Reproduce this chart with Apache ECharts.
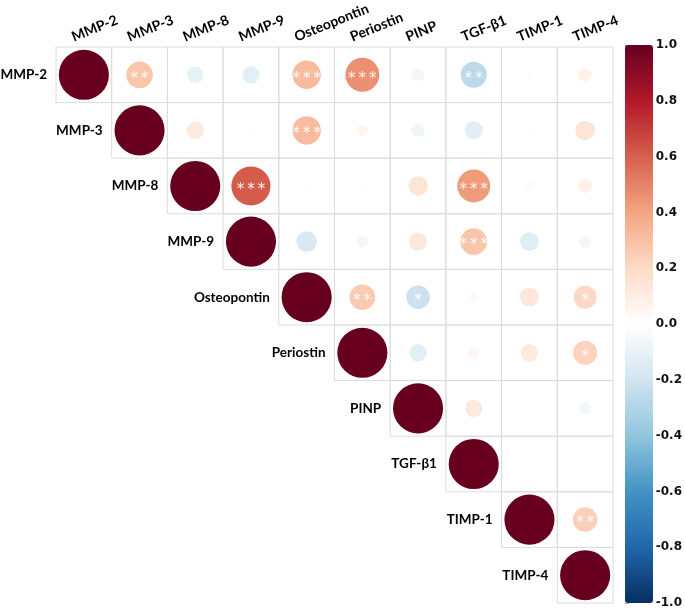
<!DOCTYPE html>
<html><head><meta charset="utf-8">
<script src="https://cdn.jsdelivr.net/npm/echarts@6/dist/echarts.min.js"></script>
<style>html,body{margin:0;padding:0;background:#fff}#c{width:685px;height:610px}</style>
</head><body><div id="c"></div>
<script>
const vars = ['MMP-2','MMP-3','MMP-8','MMP-9','Osteopontin','Periostin','PINP','TGF-β1','TIMP-1','TIMP-4'];
// correlation rows (upper triangle, starting at diagonal)
const rMMP2  = [1, 0.28, -0.11, -0.12, 0.32, 0.46, -0.06, -0.27, 0.02, 0.07];
const rMMP3  = [1, 0.12, 0.02, 0.32, 0.05, -0.07, -0.13, 0.01, 0.15];
const rMMP8  = [1, 0.61, 0.01, 0.01, 0.15, 0.43, 0.03, 0.08];
const rMMP9  = [1, -0.17, -0.06, 0.13, 0.28, -0.14, -0.06];
const rOPN   = [1, 0.26, -0.22, -0.03, 0.14, 0.21];
const rPeri  = [1, -0.12, 0.05, 0.12, 0.23];
const rPINP  = [1, 0.12, -0.01, -0.06];
const rTGF   = [1, -0.01, -0.01];
const rTIMP1 = [1, 0.24];
const rTIMP4 = [1];
// significance marks
const sMMP2  = ['', '**', '', '', '***', '***', '', '**', '', ''];
const sMMP3  = ['', '', '', '***', '', '', '', '', ''];
const sMMP8  = ['', '***', '', '', '', '***', '', ''];
const sMMP9  = ['', '', '', '', '***', '', ''];
const sOPN   = ['', '**', '*', '', '', '*'];
const sPeri  = ['', '', '', '', '*'];
const sPINP  = ['', '', '', ''];
const sTGF   = ['', '', ''];
const sTIMP1 = ['', '**'];
const sTIMP4 = [''];
const colorbarMin = -1, colorbarMax = 1, colorbarStep = 0.2;
const rdbu = ['#053061','#2166AC','#4393C3','#92C5DE','#D1E5F0','#FFFFFF','#FDDBC7','#F4A582','#D6604D','#B2182B','#67001F'];

const rRows = [rMMP2, rMMP3, rMMP8, rMMP9, rOPN, rPeri, rPINP, rTGF, rTIMP1, rTIMP4];
const sRows = [sMMP2, sMMP3, sMMP8, sMMP9, sOPN, sPeri, sPINP, sTGF, sTIMP1, sTIMP4];
const data = [], stars = [];
rRows.forEach((row, j) => row.forEach((v, k) => {
  data.push([j + k, j, v]);
  stars.push(sRows[j][k]);
}));

const labelFont = 'Lato, "Open Sans", sans-serif';
const chart = echarts.init(document.getElementById('c'));
chart.setOption({
  animation: false,
  grid: [
    {left: 56, top: 47, width: 557, height: 556},
    {left: 625, top: 45, width: 28, height: 558}
  ],
  xAxis: [
    {gridIndex: 0, type: 'category', data: vars, position: 'top', axisLine: {show: false}, axisTick: {show: false}, axisLabel: {show: false}, splitLine: {show: false}},
    {gridIndex: 1, type: 'value', show: false}
  ],
  yAxis: [
    {gridIndex: 0, type: 'category', data: vars, inverse: true, axisLine: {show: false}, axisTick: {show: false}, axisLabel: {show: false}, splitLine: {show: false}},
    {gridIndex: 1, type: 'value', min: colorbarMin, max: colorbarMax, interval: colorbarStep, position: 'right',
      axisLine: {show: false}, splitLine: {show: false},
      axisTick: {show: true, length: 4, lineStyle: {color: '#aaaaaa'}},
      axisLabel: {margin: 13, formatter: v => v.toFixed(1), fontFamily: '"DejaVu Sans", sans-serif', fontWeight: 'bold', fontSize: 12, color: '#111'}}
  ],
  visualMap: {
    type: 'continuous', min: colorbarMin, max: colorbarMax, dimension: 2, seriesIndex: 0,
    orient: 'vertical', left: 625, top: 45, itemWidth: 28, itemHeight: 558, padding: 0,
    calculable: false, text: null, showLabel: false, hoverLink: false,
    inRange: {color: rdbu}
  },
  series: [{
    type: 'custom', xAxisIndex: 0, yAxisIndex: 0, data: data, silent: true,
    renderItem: function (params, api) {
      const i = api.value(0), j = api.value(1), r = api.value(2);
      const p = api.coord([i, j]);
      const s = api.size([1, 1]);
      const rad = Math.sqrt(Math.abs(r)) * s[0] * 0.45;
      const children = [
        {type: 'rect', shape: {x: p[0] - s[0] / 2, y: p[1] - s[1] / 2, width: s[0], height: s[1]}, style: {fill: 'none', stroke: '#dcdcdc', lineWidth: 1}},
        {type: 'circle', shape: {cx: p[0], cy: p[1], r: rad}, style: {fill: api.visual('color')}}
      ];
      const st = stars[params.dataIndex];
      if (st) {
        children.push({type: 'text', x: p[0], y: p[1] + 4, style: {text: st.split('').join('\u2009'), fill: 'rgba(255,255,255,0.92)', fontSize: 15, fontFamily: '"DejaVu Sans", sans-serif', align: 'center', verticalAlign: 'middle'}});
      }
      if (i === j) {
        children.push({type: 'text', x: p[0] - s[0] / 2 - 9, y: p[1], style: {text: vars[j], fill: '#000', fontSize: 13.5, fontWeight: 'bold', fontFamily: labelFont, align: 'right', verticalAlign: 'middle'}});
      }
      if (j === 0) {
        children.push({type: 'text', x: p[0] - 9, y: p[1] - s[1] / 2 - 3, rotation: 22 * Math.PI / 180, style: {text: vars[i], fill: '#000', fontSize: 14, fontWeight: 'bold', fontFamily: labelFont, align: 'left', verticalAlign: 'bottom'}});
      }
      return {type: 'group', children: children};
    }
  }]
});
</script></body></html>
